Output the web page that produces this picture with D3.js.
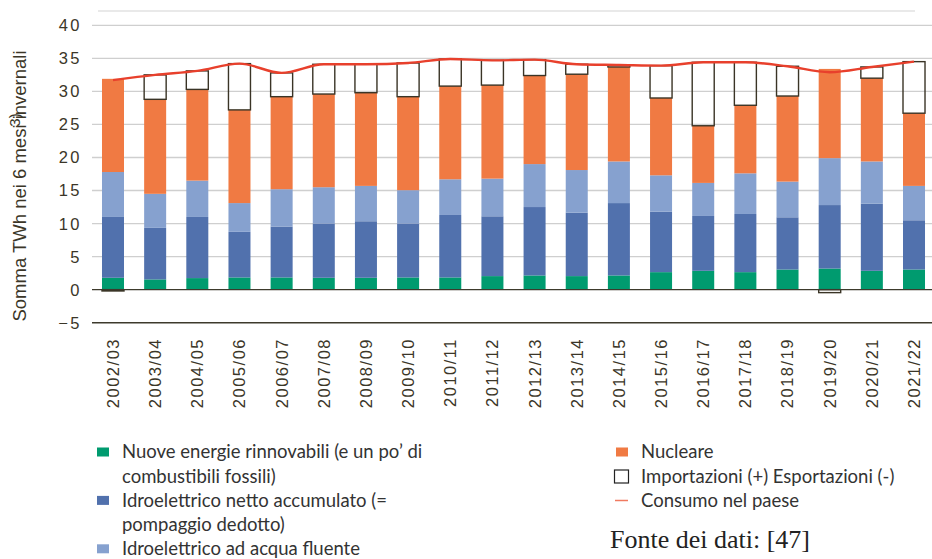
<!DOCTYPE html>
<html>
<head>
<meta charset="utf-8">
<script src="https://cdn.jsdelivr.net/npm/d3@7"></script>
<style>
  html, body { margin: 0; padding: 0; background: #fff; }
  svg { display: block; }
</style>
</head>
<body>
<svg id="chart" width="932" height="559"></svg>
<script>
const svg = d3.select("#chart");

// winter seasons
const seasons = ["2002/03", "2003/04", "2004/05", "2005/06", "2006/07", "2007/08", "2008/09",
  "2009/10", "2010/11", "2011/12", "2012/13", "2013/14", "2014/15", "2015/16", "2016/17",
  "2017/18", "2018/19", "2019/20", "2020/21", "2021/22"];

// TWh in the 6 winter months
const renewables  = [1.8, 1.55, 1.75, 1.85, 1.85, 1.8, 1.8, 1.85, 1.85, 2.05, 2.15, 2.05, 2.15, 2.65, 2.85, 2.65, 3.05, 3.2, 2.85, 3.05];
const hydroStored = [9.2, 7.8, 9.25, 6.9, 7.7, 8.2, 8.55, 8.15, 9.45, 9.05, 10.35, 9.6, 10.95, 9.15, 8.3, 8.8, 7.9, 9.6, 10.15, 7.45];
const hydroRiver  = [6.8, 5.15, 5.5, 4.35, 5.65, 5.5, 5.35, 5.05, 5.4, 5.7, 6.5, 6.45, 6.3, 5.5, 5.0, 6.15, 5.4, 7.1, 6.4, 5.2];
const nuclear     = [14.1, 14.3, 13.8, 14.1, 14.0, 14.1, 14.1, 14.15, 14.1, 14.15, 13.4, 14.5, 14.3, 11.7, 8.65, 10.3, 12.95, 13.5, 12.6, 11.0];
const netImport   = [-0.2, 3.7, 2.8, 7.0, 3.6, 4.5, 4.3, 5.1, 4.1, 3.75, 2.4, 1.5, 0.3, 4.9, 9.6, 6.5, 4.5, -0.45, 1.7, 7.8];
const consumption = [31.7, 32.5, 33.1, 34.2, 32.8, 34.1, 34.1, 34.3, 34.9, 34.7, 34.8, 34.1, 34.0, 33.9, 34.4, 34.4, 33.8, 32.9, 33.7, 34.5];

const yTicks = [-5, 0, 5, 10, 15, 20, 25, 30, 35, 40];

const keys = ["renewables", "hydroStored", "hydroRiver", "nuclear"];
const colors = {
  renewables: "#009b6f",
  hydroStored: "#5171ad",
  hydroRiver: "#86a1cf",
  nuclear: "#f07a43"
};
const textColor = "#3b3628";

const rows = seasons.map((s, i) => ({
  season: s,
  renewables: renewables[i],
  hydroStored: hydroStored[i],
  hydroRiver: hydroRiver[i],
  nuclear: nuclear[i],
  imp: netImport[i],
  cons: consumption[i]
}));

const x = d3.scaleBand()
  .domain(seasons)
  .range([92, 935])
  .paddingInner(0.478)
  .paddingOuter(0.237);

const y = d3.scaleLinear()
  .domain([-5, 40])
  .range([322.7, 25.3]);

// top border line
svg.append("line")
  .attr("x1", 98).attr("x2", 915)
  .attr("y1", 11).attr("y2", 11)
  .attr("stroke", "#d4d4d4")
  .attr("stroke-width", 1.2);

// grid
svg.append("g")
  .selectAll("line")
  .data(yTicks.filter(d => d > 0))
  .join("line")
  .attr("x1", 92).attr("x2", 932)
  .attr("y1", d => y(d)).attr("y2", d => y(d))
  .attr("stroke", "#cfcfcf")
  .attr("stroke-width", 1.3);

// y tick labels
svg.append("g")
  .selectAll("text")
  .data(yTicks)
  .join("text")
  .attr("x", 82)
  .attr("y", d => y(d))
  .attr("dy", "0.36em")
  .attr("text-anchor", "end")
  .attr("font-family", "Liberation Sans, Arial, sans-serif")
  .attr("font-size", 16.5)
  .attr("fill", textColor)
  .style("letter-spacing", "2.5px")
  .text(d => d < 0 ? "\u2212" + Math.abs(d) : d);

// stacked bars
const stacked = d3.stack().keys(keys)(rows);

svg.append("g")
  .selectAll("g")
  .data(stacked)
  .join("g")
  .attr("fill", d => colors[d.key])
  .selectAll("rect")
  .data(d => d)
  .join("rect")
  .attr("x", d => x(d.data.season))
  .attr("width", x.bandwidth())
  .attr("y", d => y(d[1]))
  .attr("height", d => y(d[0]) - y(d[1]));

// imports / exports boxes
svg.append("g")
  .selectAll("rect")
  .data(rows)
  .join("rect")
  .attr("x", d => x(d.season))
  .attr("width", x.bandwidth())
  .attr("y", d => {
    const base = d.renewables + d.hydroStored + d.hydroRiver + d.nuclear;
    return d.imp >= 0 ? y(base + d.imp) : y(0);
  })
  .attr("height", d => Math.abs(y(0) - y(d.imp)))
  .attr("fill", "none")
  .attr("stroke", "#3a3426")
  .attr("stroke-width", 1.4);

// zero and -5 lines
svg.append("g")
  .selectAll("line")
  .data([0, -5])
  .join("line")
  .attr("x1", 92).attr("x2", 932)
  .attr("y1", d => y(d)).attr("y2", d => y(d))
  .attr("stroke", "#3d3a2c")
  .attr("stroke-width", 1.4);

// consumption line
const line = d3.line()
  .x(d => x(d.season) + x.bandwidth() / 2)
  .y(d => y(d.cons))
  .curve(d3.curveMonotoneX);

svg.append("path")
  .datum(rows)
  .attr("d", line)
  .attr("fill", "none")
  .attr("stroke", "#e8402c")
  .attr("stroke-width", 2.4);

// x labels
svg.append("g")
  .selectAll("text")
  .data(seasons)
  .join("text")
  .attr("transform", d => `translate(${x(d) + x.bandwidth() / 2},338) rotate(-90)`)
  .attr("dy", "0.36em")
  .attr("text-anchor", "end")
  .attr("font-family", "Liberation Sans, Arial, sans-serif")
  .attr("font-size", 16.5)
  .attr("fill", textColor)
  .style("letter-spacing", "1.5px")
  .text(d => d);

// y axis title
svg.append("text")
  .attr("transform", "translate(26,186) rotate(-90)")
  .attr("text-anchor", "middle")
  .attr("font-family", "Liberation Sans, Arial, sans-serif")
  .attr("font-size", 18.5)
  .attr("fill", textColor)
  .text("Somma TWh nei 6 mesi invernali");

svg.append("text")
  .attr("transform", "translate(20,120) rotate(-90)")
  .attr("text-anchor", "middle")
  .attr("font-family", "Liberation Sans, Arial, sans-serif")
  .attr("font-size", 15)
  .attr("fill", textColor)
  .text("3)");

// legend
const legendFont = "Lato, 'Open Sans', sans-serif";
const leftLegend = [
  { lines: ["Nuove energie rinnovabili (e un po\u2019 di", "combustibili fossili)"], color: colors.renewables },
  { lines: ["Idroelettrico netto accumulato (=", "pompaggio dedotto)"], color: colors.hydroStored },
  { lines: ["Idroelettrico ad acqua fluente"], color: colors.hydroRiver }
];

let ly = 452;
leftLegend.forEach(item => {
  svg.append("rect")
    .attr("x", 97).attr("y", ly - 4.5)
    .attr("width", 12).attr("height", 9)
    .attr("fill", item.color);
  item.lines.forEach(t => {
    svg.append("text")
      .attr("x", 122).attr("y", ly)
      .attr("dy", "0.35em")
      .attr("font-family", legendFont)
      .attr("font-size", 18.5)
      .attr("fill", "#333")
      .text(t);
    ly += 24.2;
  });
});

const rightY = [452, 476.5, 500.5];
svg.append("rect")
  .attr("x", 616).attr("y", rightY[0] - 4.5)
  .attr("width", 12).attr("height", 9)
  .attr("fill", colors.nuclear);
svg.append("rect")
  .attr("x", 614.5).attr("y", rightY[1] - 6.5)
  .attr("width", 14).attr("height", 13)
  .attr("fill", "none")
  .attr("stroke", "#222")
  .attr("stroke-width", 1.2);
svg.append("line")
  .attr("x1", 615).attr("x2", 628)
  .attr("y1", rightY[2]).attr("y2", rightY[2])
  .attr("stroke", "#f07a60")
  .attr("stroke-width", 1.5);

svg.append("g")
  .selectAll("text")
  .data(["Nucleare", "Importazioni (+) Esportazioni (-)", "Consumo nel paese"])
  .join("text")
  .attr("x", 641)
  .attr("y", (d, i) => rightY[i])
  .attr("dy", "0.35em")
  .attr("font-family", legendFont)
  .attr("font-size", 18.5)
  .attr("fill", "#333")
  .text(d => d);

svg.append("text")
  .attr("x", 610)
  .attr("y", 548)
  .attr("font-family", "Liberation Serif, 'Times New Roman', serif")
  .attr("font-size", 26)
  .attr("fill", "#222")
  .text("Fonte dei dati: [47]");
</script>
</body>
</html>
